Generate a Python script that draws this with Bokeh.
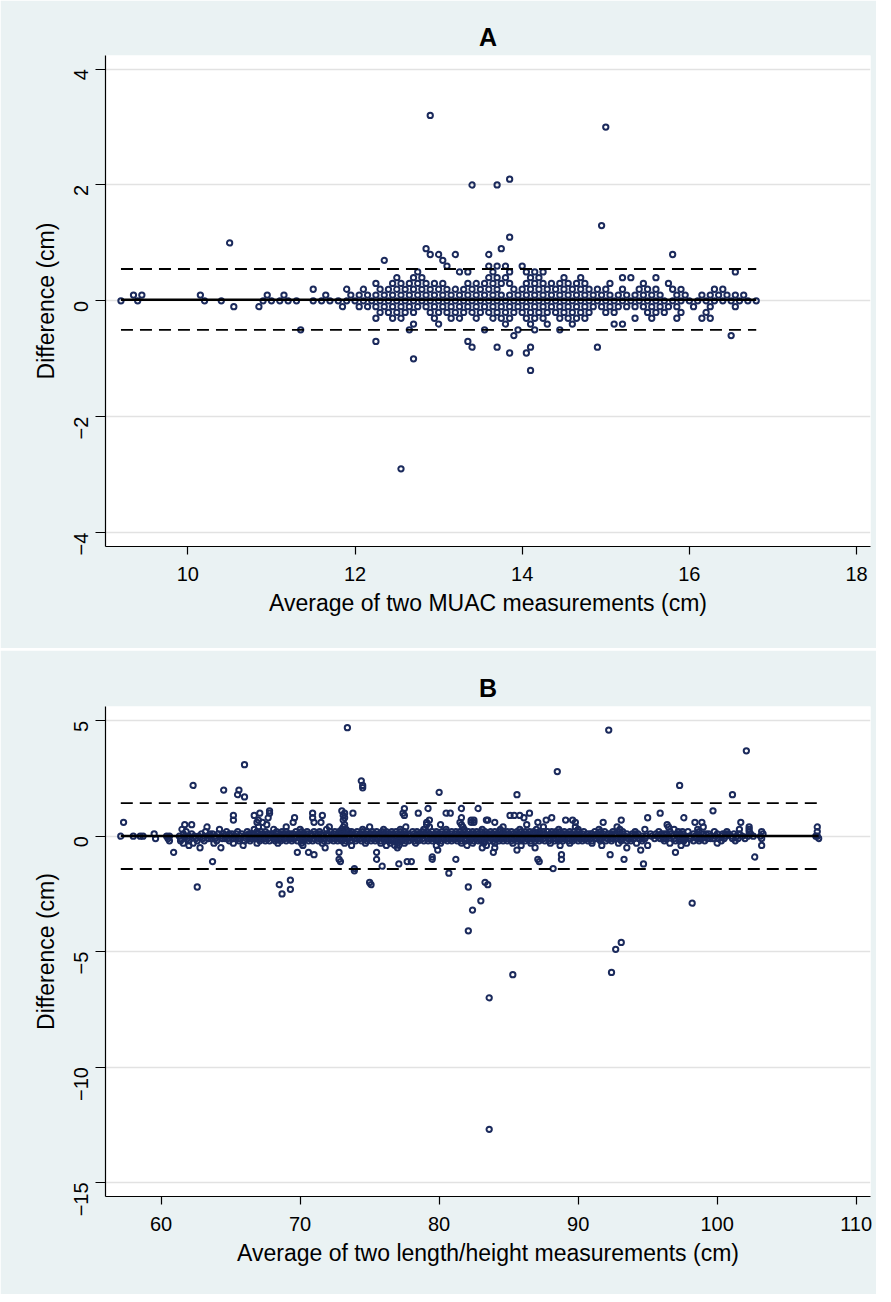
import math
from bokeh.plotting import figure
from bokeh.layouts import column
from bokeh.models import FixedTicker, Range1d
from bokeh.embed import file_html
from bokeh.resources import INLINE

# ---------------- Panel A (MUAC) ----------------
# difference levels (cm) and the averages (cm) observed at each level
a_levels = [0.0, 0.1, -0.1, 0.2, -0.2, 0.3, -0.3, 0.4, -0.4, 0.5, -0.5,
            0.6, -0.6, 0.7, -0.7, 0.8, -0.8, 0.9, -0.9, 1.0, -1.0, 1.1,
            -1.2, 1.3, 2.0, 2.1, 3.0, 3.2, -2.9]
a_rows = [
    [9.2, 9.4, 10.2, 10.4, 10.9, 11.0, 11.1, 11.2, 11.3, 11.5, 11.6, 11.7, 11.8, 11.9,
     12.0, 12.1, 12.2, 12.3, 12.4, 12.5, 12.6, 12.7, 12.8, 12.9, 13.0, 13.1, 13.2, 13.3,
     13.4, 13.5, 13.6, 13.7, 13.8, 13.9, 14.0, 14.1, 14.2, 14.3, 14.4, 14.5, 14.6, 14.7,
     14.8, 14.9, 15.0, 15.1, 15.2, 15.3, 15.4, 15.5, 15.6, 15.7, 15.8, 15.9, 16.0, 16.1,
     16.2, 16.3, 16.4, 16.5, 16.6, 16.7, 16.8],
    [9.35, 9.45, 10.15, 10.95, 11.15, 11.65, 11.95, 12.05, 12.15, 12.25, 12.35, 12.45,
     12.55, 12.65, 12.75, 12.85, 12.95, 13.05, 13.15, 13.25, 13.35, 13.45, 13.55, 13.65,
     13.75, 13.85, 13.95, 14.05, 14.15, 14.25, 14.35, 14.45, 14.55, 14.65, 14.75, 14.85,
     14.95, 15.05, 15.15, 15.25, 15.35, 15.45, 15.55, 15.65, 15.85, 15.95, 16.15, 16.25,
     16.35, 16.45, 16.55, 16.65],
    [10.55, 10.85, 11.85, 12.05, 12.15, 12.25, 12.35, 12.45, 12.55, 12.65, 12.75, 12.85,
     12.95, 13.05, 13.15, 13.25, 13.35, 13.45, 13.55, 13.65, 13.75, 13.85, 13.95, 14.05,
     14.15, 14.25, 14.35, 14.45, 14.55, 14.65, 14.75, 14.85, 14.95, 15.05, 15.15, 15.25,
     15.35, 15.45, 15.55, 15.65, 15.75, 15.85, 16.05, 16.25, 16.55],
    [11.5, 11.9, 12.1, 12.3, 12.4, 12.5, 12.6, 12.7, 12.8, 12.9, 13.0, 13.1, 13.2, 13.3,
     13.4, 13.5, 13.6, 13.7, 13.9, 14.0, 14.1, 14.2, 14.3, 14.4, 14.5, 14.6, 14.7, 14.8,
     14.9, 15.0, 15.2, 15.4, 15.5, 15.6, 15.8, 15.9, 16.3, 16.4],
    [12.3, 12.4, 12.5, 12.6, 12.7, 12.9, 13.0, 13.1, 13.2, 13.3, 13.4, 13.5, 13.6, 13.7,
     13.8, 13.9, 14.0, 14.1, 14.2, 14.3, 14.4, 14.5, 14.6, 14.7, 14.8, 15.0, 15.1, 15.5,
     15.6, 15.7, 15.9, 16.2],
    [12.25, 12.45, 12.55, 12.65, 12.75, 12.85, 12.95, 13.05, 13.35, 13.45, 13.55, 13.65,
     13.75, 13.85, 14.05, 14.15, 14.25, 14.35, 14.45, 14.55, 14.65, 14.75, 15.05, 15.45,
     15.75],
    [12.25, 12.45, 12.55, 12.95, 13.15, 13.25, 13.45, 13.65, 13.75, 13.85, 14.05, 14.15,
     14.25, 14.45, 14.55, 14.65, 14.75, 15.35, 15.55, 15.85, 16.15, 16.25],
    [12.5, 12.7, 12.8, 13.6, 13.7, 13.8, 14.1, 14.2, 14.5, 14.7, 15.2, 15.3, 15.6],
    [12.7, 13.0, 13.8, 14.1, 14.3, 14.6, 15.1, 15.2],
    [12.75, 13.25, 13.35, 13.65, 13.85, 14.05, 14.15, 14.25, 16.55],
    [11.35, 12.65, 13.55, 13.95, 14.15, 14.45],
    [13.1, 13.6, 13.7, 13.8, 14.0],
    [13.9, 16.5],
    [12.35, 13.05],
    [12.25, 13.35],
    [12.9, 13.0, 13.2, 13.6, 15.8],
    [13.4, 13.7, 14.1, 14.9],
    [12.85, 13.75],
    [13.85, 14.05],
    [10.5],
    [12.7],
    [13.85],
    [14.1],
    [14.95],
    [13.4, 13.7],
    [13.85],
    [15.0],
    [12.9],
    [12.55],
]
a_mean, a_upper, a_lower = 0.02, 0.55, -0.50
a_xticks = [10, 12, 14, 16, 18]
a_yticks = [-4, -2, 0, 2, 4]

# ---------------- Panel B (length/height) ----------------
b_levels = [0.0, 0.1, -0.1, 0.2, -0.2, 0.3, -0.3, 0.4, -0.4, 0.5, -0.5,
            0.6, -0.6, 0.7, -0.7, 0.8, -0.8, 0.9, -0.9, 1.0, -1.0, 1.1, -1.1,
            1.2, -1.2, -1.3, -1.4, -1.5, -1.6, 1.7, 1.8, 1.9, -1.9, 2.0, -2.0,
            2.1, -2.1, 2.2, -2.2, -2.3, 2.4, -2.5, 2.8, -2.8, -2.9, 3.1, -3.2,
            3.7, -4.1, 4.6, -4.6, 4.7, -4.9, -5.9, -6.0, -7.0, -12.7,
            0.1, -0.1, 0.2, -0.2]
b_rows = [
    [57.1, 58.0, 58.5, 58.7, 60.4, 60.6, 61.3, 61.7, 62.0, 62.4, 62.7, 63.1, 63.5, 63.9,
     64.3, 64.6, 65.0, 65.3, 65.7, 66.0, 66.4, 66.8, 67.1, 67.5, 67.9, 68.2, 68.6, 69.0,
     69.3, 69.7, 70.1, 70.5, 70.8, 71.2, 71.6, 72.0, 72.3, 72.7, 73.1, 73.5, 73.8, 74.2,
     74.6, 74.9, 75.3, 75.7, 76.1, 76.4, 76.8, 77.2, 77.6, 77.9, 78.3, 78.7, 79.1, 79.4,
     79.8, 80.2, 80.6, 80.9, 81.3, 81.7, 82.1, 82.5, 82.8, 83.2, 83.6, 84.0, 84.3, 84.7,
     85.1, 85.5, 85.8, 86.2, 86.6, 87.0, 87.3, 87.7, 88.1, 88.5, 88.9, 89.2, 89.6, 90.0,
     90.4, 90.8, 91.1, 91.5, 91.9, 92.3, 92.7, 93.0, 93.4, 93.8, 94.2, 94.6, 94.9, 95.3,
     95.7, 96.1, 96.5, 96.8, 97.2, 97.6, 98.0, 98.4, 98.7, 99.1, 99.5, 99.9, 100.3, 100.6,
     101.0, 101.4, 101.8, 102.2, 102.6, 103.1, 107.1, 107.2],
    [59.5, 61.6, 62.2, 62.9, 63.5, 64.1, 64.5, 64.9, 65.4, 65.8, 66.3, 66.6, 66.9, 67.3,
     67.6, 68.0, 68.4, 68.8, 69.1, 69.5, 69.9, 70.3, 70.8, 71.1, 71.5, 71.9, 72.4, 72.7,
     73.0, 73.3, 73.6, 74.0, 74.3, 74.7, 75.0, 75.4, 75.7, 76.0, 76.3, 76.7, 77.0, 77.4,
     77.8, 78.2, 78.6, 78.9, 79.3, 79.7, 80.1, 80.4, 80.8, 81.2, 81.6, 82.0, 82.3, 82.7,
     83.1, 83.5, 83.9, 84.2, 84.6, 85.0, 85.3, 85.7, 86.1, 86.5, 86.8, 87.2, 87.6, 88.0,
     88.3, 88.7, 89.1, 89.5, 89.9, 90.3, 90.7, 91.0, 91.4, 91.8, 92.2, 92.6, 93.0, 93.5,
     93.9, 94.3, 95.2, 95.6, 96.0, 96.4, 96.7, 97.1, 97.5, 98.3, 98.6, 99.0, 99.4, 100.0,
     100.4, 100.8, 101.2, 101.6, 102.4, 103.3],
    [59.6, 60.5, 61.4, 61.9, 62.5, 63.0, 63.4, 63.9, 64.4, 64.8, 65.2, 65.6, 66.1, 66.5,
     66.8, 67.2, 67.7, 68.1, 68.5, 68.9, 69.2, 69.6, 70.0, 70.4, 70.7, 71.3, 71.7, 72.1,
     72.5, 72.9, 73.2, 73.5, 73.9, 74.3, 74.6, 74.9, 75.2, 75.6, 75.9, 76.2, 76.6, 76.9,
     77.3, 77.7, 78.0, 78.4, 78.8, 79.2, 79.6, 80.0, 80.3, 80.7, 81.1, 81.5, 81.9, 82.2,
     82.6, 83.0, 83.4, 83.7, 84.1, 84.5, 84.9, 85.2, 85.6, 86.0, 86.3, 86.7, 87.1, 87.5,
     87.9, 88.2, 88.6, 89.0, 89.4, 89.8, 90.1, 90.5, 90.9, 91.3, 91.7, 92.1, 92.5, 92.8,
     93.2, 93.6, 94.0, 94.4, 94.8, 95.5, 95.9, 96.3, 96.9, 97.3, 97.7, 98.1, 98.5, 98.9,
     99.3, 99.7, 100.1, 100.5, 101.1, 101.5, 102.0, 103.2, 107.3],
    [61.8, 63.2, 64.7, 65.5, 66.2, 66.9, 67.5, 68.3, 69.0, 69.7, 70.5, 71.4, 72.2, 72.8,
     73.1, 73.4, 73.7, 74.1, 74.8, 75.5, 76.2, 76.9, 77.5, 78.1, 78.8, 79.5, 80.2, 80.9,
     81.5, 82.1, 82.7, 83.3, 84.0, 84.6, 85.2, 85.9, 86.5, 87.2, 87.8, 88.4, 89.0, 89.7,
     90.4, 91.2, 91.9, 92.5, 93.2, 94.1, 95.8, 96.6, 97.2, 97.9, 98.7, 99.8, 100.7, 102.3,
     103.2, 107.2],
    [60.6, 61.4, 62.0, 62.6, 63.1, 64.0, 64.9, 65.6, 66.4, 67.1, 67.8, 68.6, 69.4, 70.2,
     70.9, 71.7, 72.4, 73.0, 73.6, 74.4, 75.1, 75.8, 76.4, 76.9, 77.3, 77.8, 78.5, 79.2,
     79.9, 80.6, 81.3, 81.9, 82.5, 83.0, 83.6, 84.3, 84.9, 85.6, 86.2, 86.9, 87.6, 88.3,
     88.9, 89.6, 90.3, 91.0, 91.6, 92.4, 93.1, 93.8, 94.6, 96.2, 97.0, 97.6, 98.3, 99.1,
     100.3, 101.3],
    [61.5, 64.2, 66.7, 68.1, 70.0, 71.9, 73.0, 73.3, 74.5, 76.0, 77.2, 78.9, 80.5, 81.8,
     83.1, 84.4, 85.8, 87.0, 88.6, 90.0, 91.5, 93.0, 94.8, 96.9, 98.6, 101.6, 102.3],
    [61.6, 62.3, 63.8, 65.2, 66.9, 68.4, 70.1, 71.6, 73.2, 74.7, 75.8, 76.5, 77.0, 77.5,
     78.3, 80.1, 81.6, 82.4, 83.2, 84.0, 85.3, 86.6, 88.0, 89.4, 91.0, 92.9, 94.2, 96.6,
     97.8, 100.0],
    [63.3, 67.0, 69.0, 72.1, 73.1, 75.0, 77.6, 79.3, 81.7, 84.6, 87.5, 89.8, 92.8, 96.5,
     99.0, 102.3, 107.2],
    [62.0, 65.9, 70.2, 73.7, 76.2, 76.8, 77.1, 79.8, 82.0, 83.4, 85.9, 88.7, 91.7, 95.0,
     97.4, 103.2],
    [61.7, 62.2, 67.6, 73.2, 79.1, 80.1, 81.6, 86.3, 96.4],
    [62.8, 64.3, 71.8, 77.0, 83.1, 84.0, 86.9, 93.5],
    [57.3, 66.9, 67.3, 69.5, 71.0, 71.5, 79.1, 81.5, 82.3, 82.5, 84.0, 87.1, 89.8, 91.8,
     98.4, 98.9, 101.7],
    [94.5, 79.9, 85.6],
    [65.2, 67.0, 73.1, 79.3, 82.3, 82.5, 83.5, 83.4, 87.7, 89.1, 89.6, 93.1],
    [60.9, 69.8, 70.6, 72.8, 75.5, 83.9, 97.0],
    [67.7, 69.6, 70.9, 73.2, 81.6, 86.1, 88.1, 95.0, 97.6],
    [71.0, 88.8, 92.3],
    [65.2, 66.7, 71.6, 73.1, 77.5, 85.1, 85.4, 85.8],
    [79.5, 102.7],
    [67.1, 67.8, 70.9, 73.2, 73.8, 77.4, 78.5, 80.5, 80.8, 86.5, 95.9],
    [72.8, 75.5, 79.5, 81.2, 87.1, 88.8, 93.3],
    [67.8, 73.0, 99.7],
    [63.7, 72.9, 77.7, 78.0, 87.2],
    [77.5, 79.2, 81.6, 82.8],
    [77.1, 94.7],
    [75.9],
    [73.9, 88.2],
    [73.9],
    [80.7],
    [66.0],
    [65.5, 85.6, 101.1],
    [80.0],
    [69.3],
    [64.5, 65.6],
    [75.0, 83.3],
    [74.5],
    [68.5, 75.1, 83.5],
    [62.3, 74.5, 97.3],
    [62.6, 82.1],
    [69.3],
    [74.4],
    [68.7],
    [88.5],
    [83.0],
    [98.2],
    [66.0],
    [82.4],
    [102.1],
    [82.1],
    [92.2],
    [93.1],
    [73.4],
    [92.7],
    [92.4],
    [85.3],
    [83.6],
    [83.6],
    [63.7, 65.1, 66.4, 67.0, 67.8, 68.6, 69.3, 70.1, 70.5, 71.3, 72.0, 72.9, 73.1, 73.8,
     74.5, 75.2, 75.9, 76.5, 77.2, 77.6, 78.4, 79.1, 79.9, 80.6, 81.4, 81.8, 82.5, 83.3,
     83.7, 84.4, 84.8, 85.5, 86.3, 87.0, 87.4, 88.2, 88.9, 89.3, 90.1, 90.9, 91.6, 92.4,
     93.2, 94.1, 96.2, 97.3, 99.2, 100.6],
    [63.6, 64.6, 65.4, 66.3, 67.0, 67.5, 68.3, 68.7, 69.4, 70.2, 71.0, 71.5, 72.3, 72.7,
     73.4, 74.1, 74.8, 75.4, 76.0, 76.4, 77.1, 77.5, 78.2, 78.6, 79.4, 79.8, 80.5, 80.9,
     81.3, 82.0, 82.4, 82.8, 83.2, 83.9, 84.3, 84.7, 85.4, 85.8, 86.5, 86.9, 87.3, 88.0,
     88.4, 88.8, 89.6, 90.3, 90.7, 91.5, 92.3, 93.0, 93.8, 94.6, 96.1, 97.5, 98.7, 99.5],
    [67.2, 68.7, 70.1, 71.0, 72.5, 73.0, 73.5, 74.5, 75.2, 75.9, 76.6, 77.2, 78.4, 79.1,
     79.8, 80.5, 81.2, 81.8, 82.4, 83.0, 83.7, 84.3, 84.9, 85.6, 86.2, 86.8, 87.5, 88.1,
     88.7, 89.4, 90.0, 91.6, 92.9, 97.5],
    [66.0, 67.5, 68.2, 69.0, 69.8, 70.6, 71.3, 72.0, 72.7, 73.3, 74.0, 74.8, 75.4, 76.1,
     76.6, 77.1, 77.6, 78.2, 78.9, 79.5, 80.2, 80.9, 81.6, 82.2, 82.8, 83.3, 83.9, 84.6,
     85.2, 85.9, 86.6, 87.2, 87.9, 88.6, 89.3, 90.0, 90.7, 92.0, 93.5, 97.3, 98.7],
]
b_mean, b_upper, b_lower = 0.01, 1.43, -1.42
b_xticks = [60, 70, 80, 90, 100, 110]
b_yticks = [-15, -10, -5, 0, 5]

FONT = "Liberation Sans"
BG = "#EAF2F3"
MARK = "#1b2a5c"


def flatten(levels, rows):
    xs, ys = [], []
    for lev, row in zip(levels, rows):
        for x in row:
            xs.append(x)
            ys.append(lev)
    return xs, ys


def panel(title, levels, rows, mean, upper, lower, xr, yr, xticks, yticks,
          xlabel, top, bottom, fh):
    xs, ys = flatten(levels, rows)
    p = figure(frame_width=765, frame_height=fh, min_border_left=105,
               min_border_right=6, min_border_top=top, min_border_bottom=bottom,
               x_range=Range1d(*xr), y_range=Range1d(*yr),
               output_backend="svg", toolbar_location=None)
    p.title.text = title
    p.title.align = "center"
    p.title.text_font = FONT
    p.title.text_font_size = "25px"
    p.title.text_font_style = "bold"
    p.title.text_color = "black"
    p.border_fill_color = BG
    p.background_fill_color = "white"
    p.outline_line_color = None
    p.xgrid.visible = False
    p.ygrid.grid_line_color = "#e2e2e2"
    p.ygrid.grid_line_width = 1.3
    p.ygrid.ticker = FixedTicker(ticks=yticks)
    p.xaxis.ticker = FixedTicker(ticks=xticks)
    p.yaxis.ticker = FixedTicker(ticks=yticks)
    for ax in (p.xaxis[0], p.yaxis[0]):
        ax.axis_line_color = "black"
        ax.axis_line_width = 1.2
        ax.major_tick_line_color = "black"
        ax.major_tick_line_width = 1.2
        ax.major_tick_in = 0
        ax.minor_tick_line_color = None
        ax.major_label_text_font = FONT
        ax.major_label_text_font_size = "20px"
        ax.major_label_text_color = "black"
        ax.axis_label_text_font = FONT
        ax.axis_label_text_font_size = "23px"
        ax.axis_label_text_font_style = "normal"
        ax.axis_label_text_color = "black"
    p.xaxis.major_tick_out = 8
    p.yaxis.major_tick_out = 10
    p.xaxis.major_label_standoff = 12
    p.yaxis.major_label_standoff = 14
    p.xaxis.axis_label_standoff = 6
    p.yaxis.axis_label_standoff = 6
    p.yaxis.major_label_orientation = math.pi / 2
    p.xaxis.axis_label = xlabel
    p.yaxis.axis_label = "Difference (cm)"

    p.scatter(xs, ys, size=5.3, marker="circle", fill_alpha=0,
              line_color=MARK, line_width=2.0)
    x0, x1 = min(xs), max(xs)
    p.line([x0, x1], [mean, mean], line_color="black", line_width=2.4)
    for v in (upper, lower):
        p.line([x0, x1], [v, v], line_color="black", line_width=1.8,
               line_dash="12 7")
    return p


pA = panel("A", a_levels, a_rows, a_mean, a_upper, a_lower,
           (9.015, 18.167), (-4.24, 4.235), a_xticks, a_yticks,
           "Average of two MUAC measurements (cm)", 55, 102, 491)
pB = panel("B", b_levels, b_rows, b_mean, b_upper, b_lower,
           (56.0, 111.03), (-15.61, 5.62), b_xticks, b_yticks,
           "Average of two length/height measurements (cm)", 56, 98, 490)

layout = column(pA, pB, spacing=2)
open("out.html", "w").write(file_html(layout, INLINE))
